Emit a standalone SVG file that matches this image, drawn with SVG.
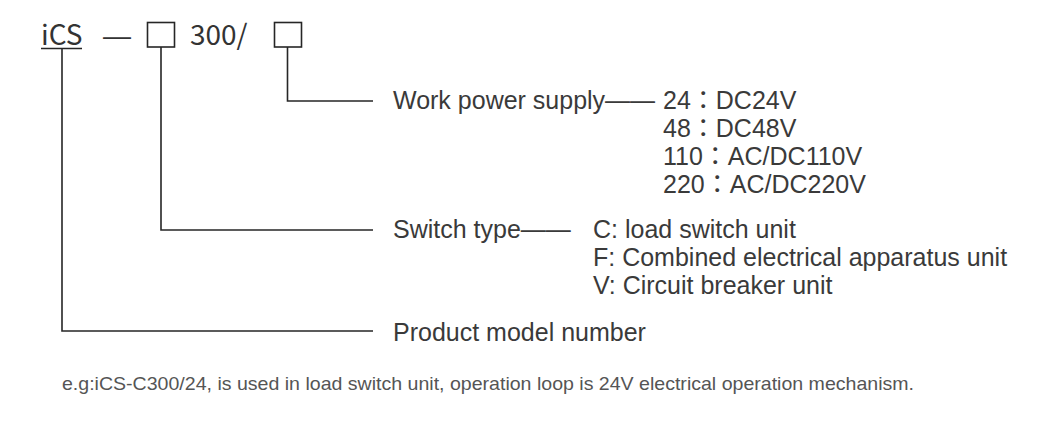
<svg xmlns="http://www.w3.org/2000/svg" width="1047" height="440" viewBox="0 0 1047 440">
<style>
.title{font-family:"Noto Sans CJK SC","Noto Sans",sans-serif;font-size:28px;fill:#333}
.dash{font-family:"Liberation Sans",sans-serif;font-size:28px;fill:#333}
.lbl{font-family:"Liberation Sans","Noto Sans CJK TC",sans-serif;font-size:25px;fill:#3a3a3a}
.note{font-family:"Liberation Sans",sans-serif;font-size:18.5px;fill:#555}
.ln{stroke:#262626;stroke-width:1.6;fill:none}
</style>
<rect width="1047" height="440" fill="#fff"/>
<g id="model">
<text class="title" x="41" y="45">iCS</text>
<text class="dash" x="103" y="45">—</text>
<rect class="ln" x="147.5" y="22.5" width="27" height="24.5"/>
<text class="title" x="190" y="45">300/</text>
<rect class="ln" x="274.5" y="22.5" width="27" height="24.5"/>
</g>
<g id="connectors">
<path class="ln" d="M41 48.5H82M62 48.5V331H373"/>
<path class="ln" d="M161 47V230H373"/>
<path class="ln" d="M287.5 47V101H373"/>
</g>
<g id="power">
<text class="lbl" x="393" y="109">Work power supply——</text>
<text class="lbl" x="663" y="109">24：DC24V</text>
<text class="lbl" x="663" y="137">48：DC48V</text>
<text class="lbl" x="663" y="165">110：AC/DC110V</text>
<text class="lbl" x="663" y="193">220：AC/DC220V</text>
</g>
<g id="switch">
<text class="lbl" x="393" y="238">Switch type——</text>
<text class="lbl" x="593" y="238">C: load switch unit</text>
<text class="lbl" x="593" y="266">F: Combined electrical apparatus unit</text>
<text class="lbl" x="593" y="294">V: Circuit breaker unit</text>
</g>
<g id="product">
<text class="lbl" x="393" y="341">Product model number</text>
</g>
<text class="note" x="62" y="390" textLength="852" lengthAdjust="spacingAndGlyphs">e.g:iCS-C300/24, is used in load switch unit, operation loop is 24V electrical operation mechanism.</text>
</svg>
